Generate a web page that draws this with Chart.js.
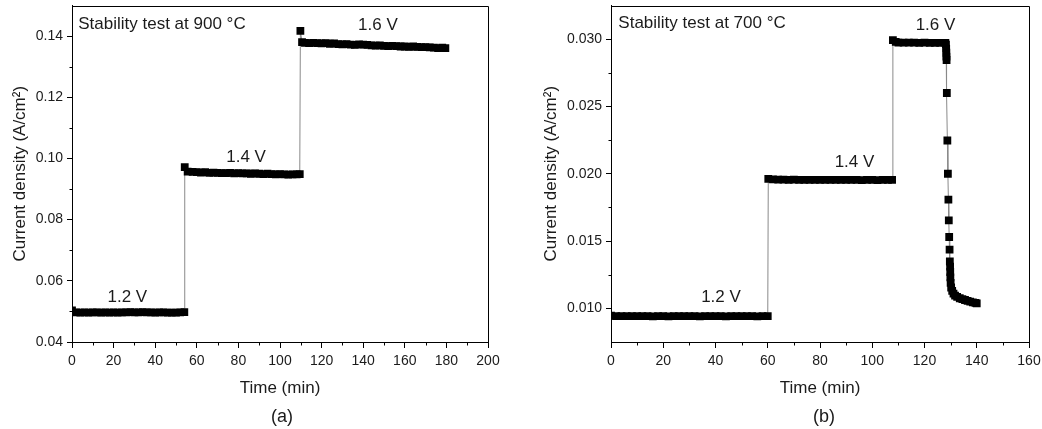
<!DOCTYPE html>
<html><head><meta charset="utf-8">
<script src="https://cdn.jsdelivr.net/npm/chart.js@4/dist/chart.umd.min.js"></script>
<style>
html,body{margin:0;padding:0;background:#fff;}
#wrap{position:relative;width:1042px;height:429px;overflow:hidden;background:#fff;}
canvas{position:absolute;top:0;}
#ca{left:0;} #cb{left:521px;}
.cap{position:absolute;top:405px;font:18px "Liberation Sans",Arial,sans-serif;color:#1a1a1a;width:60px;text-align:center;line-height:22px;}
</style></head><body>
<div id="wrap">
<canvas id="ca" width="521" height="429" style="width:521px;height:429px"></canvas>
<canvas id="cb" width="521" height="429" style="width:521px;height:429px"></canvas>
<div class="cap" style="left:252px">(a)</div>
<div class="cap" style="left:794px">(b)</div>
</div>
<script>
// ---------- Panel (a): 900 °C ----------
const timeA12 = [0,2,4,6,8,10,12,14,16,18,20,22,24,26,28,30,32,34,36,38,40,42,44,46,48,50,52,54];
const curA12  = [0.0503,0.0497,0.0496,0.0497,0.0496,0.0497,0.0497,0.0496,0.0497,0.0496,0.0497,0.0496,0.0497,0.0497,0.0498,0.0497,0.0497,0.0498,0.0497,0.0497,0.0496,0.0497,0.0497,0.0496,0.0496,0.0496,0.0497,0.0498];
const timeA14 = [54.2,55.6,58,60,62,64,66,68,70,72,74,76,78,80,82,84,86,88,90,92,94,96,98,100,102,104,106,108,109.5];
const curA14  = [0.0972,0.0957,0.0956,0.0955,0.0954,0.0955,0.0953,0.0954,0.0953,0.0952,0.0952,0.0953,0.0951,0.0952,0.0951,0.0951,0.0950,0.0951,0.0950,0.0949,0.0950,0.0949,0.0948,0.0949,0.0948,0.0947,0.0948,0.0948,0.0949];
const timeA16 = [109.8,110.6,112,114,116,118,120,122,124,126,128,130,132,134,136,138,140,142,144,146,148,150,152,154,156,158,160,162,164,166,168,170,172,174,176,178,179.5];
const curA16  = [0.1417,0.1380,0.1378,0.1377,0.1378,0.1377,0.1376,0.1377,0.1375,0.1376,0.1374,0.1373,0.1374,0.1372,0.1371,0.1373,0.1372,0.1371,0.1370,0.1369,0.1370,0.1368,0.1367,0.1368,0.1367,0.1366,0.1366,0.1365,0.1366,0.1365,0.1364,0.1364,0.1363,0.1362,0.1361,0.1362,0.1361];
const xTicksA = [0,20,40,60,80,100,120,140,160,180,200];
const xMinorA = [10,30,50,70,90,110,130,150,170,190];
const yTicksA = [0.04,0.06,0.08,0.10,0.12,0.14];
const yMinorA = [0.05,0.07,0.09,0.11,0.13];

// ---------- Panel (b): 700 °C ----------
const timeB12 = [0,2,4,6,8,10,12,14,16,18,20,22,24,26,28,30,32,34,36,38,40,42,44,46,48,50,52,54,56,58,60];
const curB12  = [0.00945,0.00943,0.00942,0.00943,0.00942,0.00942,0.00943,0.00942,0.00941,0.00942,0.00942,0.00941,0.00942,0.00942,0.00943,0.00942,0.00942,0.00941,0.00942,0.00943,0.00942,0.00942,0.00941,0.00942,0.00942,0.00943,0.00942,0.00942,0.00941,0.00942,0.00943];
const timeB14 = [60.2,62,64,66,68,70,72,74,76,78,80,82,84,86,88,90,92,94,96,98,100,102,104,106,107.6];
const curB14  = [0.01962,0.01958,0.01957,0.01956,0.01955,0.01956,0.01955,0.01955,0.01954,0.01955,0.01955,0.01954,0.01955,0.01954,0.01954,0.01955,0.01954,0.01954,0.01953,0.01954,0.01954,0.01953,0.01954,0.01954,0.01955];
const timeB16 = [107.9,109,110,112,114,116,118,120,122,124,126,128,128.2,128.3,128.35,128.4,128.45,128.55,128.75,128.95,129.15,129.3,129.45,129.6,129.7,129.8,129.85,129.9,130.0,130.2,130.6,131.1,131.7,132.5,133.5,134.5,135.5,136.5,137.5,138.5,139.5,140.0];
const curB16  = [0.02992,0.02979,0.02975,0.02974,0.02975,0.02974,0.02973,0.02974,0.02973,0.02973,0.02972,0.02972,0.0296,0.0293,0.0290,0.0287,0.02845,0.0260,0.02247,0.0200,0.01807,0.01654,0.0153,0.01437,0.01348,0.0131,0.0127,0.0123,0.0119,0.01155,0.0113,0.0111,0.01095,0.01085,0.01075,0.01068,0.01062,0.01056,0.0105,0.01045,0.0104,0.01037];
const xTicksB = [0,20,40,60,80,100,120,140,160];
const xMinorB = [10,30,50,70,90,110,130,150];
const yTicksB = [0.010,0.015,0.020,0.025,0.030];
const yMinorB = [0.0125,0.0175,0.0225,0.0275];

const FONT = '"Liberation Sans", Arial, Helvetica, sans-serif';
const TXT = '#1b1b1b';

function pts(t, c){ return t.map((v,i)=>({x:v, y:c[i]})); }

const framePlugin = {
  id:'frame',
  afterDraw(chart){
    const {ctx, chartArea:a} = chart;
    ctx.save();
    ctx.strokeStyle = '#000'; ctx.lineWidth = 1;
    const l = Math.round(a.left)+0.5, t = Math.round(a.top)+0.5, r = Math.round(a.right)+0.5, b = Math.round(a.bottom)+0.5;
    ctx.beginPath();
    ctx.moveTo(l,t); ctx.lineTo(r,t); ctx.lineTo(r,b); ctx.lineTo(l,b); ctx.closePath();
    ctx.stroke();
    // minor ticks
    const o = chart.options.plugins.minor;
    const xs = chart.scales.x, ys = chart.scales.y;
    ctx.beginPath();
    o.x.forEach(v=>{ const px = Math.round(xs.getPixelForValue(v))+0.5; ctx.moveTo(px,b); ctx.lineTo(px,b+3); });
    o.y.forEach(v=>{ const py = Math.round(ys.getPixelForValue(v))+0.5; ctx.moveTo(l,py); ctx.lineTo(l-3,py); });
    ctx.stroke();
    // annotations
    const notes = chart.options.plugins.notes;
    ctx.fillStyle = TXT;
    ctx.font = '17px ' + FONT;
    ctx.textBaseline = 'middle';
    notes.forEach(n=>{
      ctx.textAlign = n.align;
      ctx.fillText(n.text, xs.getPixelForValue(n.x), ys.getPixelForValue(n.y));
    });
    ctx.restore();
  }
};

function makeChart(id, c){
  return new Chart(document.getElementById(id), {
    type:'line',
    data:{ datasets:[{
      data:c.data, borderColor:'#8a8a8a', borderWidth:1, tension:0,
      pointStyle:'rect', pointRadius:5.5, pointHoverRadius:5.5,
      pointBackgroundColor:'#000', pointBorderColor:'#000', pointBorderWidth:0
    }]},
    options:{
      responsive:false, animation:false, devicePixelRatio:1,
      events:[],
      layout:{padding:{top:5, right:c.padRight, left:0, bottom:0}},
      plugins:{
        legend:{display:false}, tooltip:{enabled:false},
        minor:{x:c.xMinor, y:c.yMinor},
        notes:c.notes
      },
      scales:{
        x:{
          type:'linear', min:c.xMin, max:c.xMax,
          afterBuildTicks:s=>{ s.ticks = c.xTicks.map(v=>({value:v})); },
          afterFit:s=>{ s.height = 87; s.paddingRight = 0; s.paddingLeft = 0; },
          grid:{drawOnChartArea:false, drawTicks:true, tickLength:6, color:'#000', tickColor:'#000'},
          border:{display:true, color:'#000', width:1},
          ticks:{color:TXT, font:{family:FONT, size:14}, padding:5, maxRotation:0, autoSkip:false, callback:v=>String(v)},
          title:{display:true, text:'Time (min)', color:TXT, font:{family:FONT, size:17}, padding:{top:0, bottom:30}}
        },
        y:{
          type:'linear', min:c.yMin, max:c.yMax,
          afterBuildTicks:s=>{ s.ticks = c.yTicks.map(v=>({value:v})); },
          afterFit:s=>{ s.width = c.yWidth; s.paddingTop = 0; s.paddingBottom = 0; },
          grid:{drawOnChartArea:false, drawTicks:true, tickLength:5, color:'#000', tickColor:'#000'},
          border:{display:true, color:'#000', width:1},
          ticks:{color:TXT, font:{family:FONT, size:14}, padding:4, autoSkip:false, callback:v=>v.toFixed(c.yDec)},
          title:{display:true, text:'Current density (A/cm²)', color:TXT, font:{family:FONT, size:17}, padding:{top:c.yTitlePad, bottom:0}}
        }
      }
    },
    plugins:[framePlugin]
  });
}

makeChart('ca', {
  data: pts(timeA12.concat(timeA14, timeA16), curA12.concat(curA14, curA16)),
  xMin:0, xMax:200, yMin:0.04, yMax:0.15,
  xTicks:xTicksA, xMinor:xMinorA, yTicks:yTicksA, yMinor:yMinorA,
  yDec:2, yWidth:72, yTitlePad:10.5, padRight:33,
  notes:[
    {text:'Stability test at 900 °C', x:3, y:0.1439, align:'left'},
    {text:'1.2 V', x:26.6, y:0.0545, align:'center'},
    {text:'1.4 V', x:83.7, y:0.1005, align:'center'},
    {text:'1.6 V', x:147.1, y:0.1436, align:'center'}
  ]
});

makeChart('cb', {
  data: pts(timeB12.concat(timeB14, timeB16), curB12.concat(curB14, curB16)),
  xMin:0, xMax:160, yMin:0.0075, yMax:0.0325,
  xTicks:xTicksB, xMinor:xMinorB, yTicks:yTicksB, yMinor:yMinorB,
  yDec:3, yWidth:90, yTitlePad:20.5, padRight:13,
  notes:[
    {text:'Stability test at 700 °C', x:2.8, y:0.0312, align:'left'},
    {text:'1.2 V', x:42.1, y:0.0108, align:'center'},
    {text:'1.4 V', x:93.2, y:0.02087, align:'center'},
    {text:'1.6 V', x:124.2, y:0.03104, align:'center'}
  ]
});
</script>
</body></html>
